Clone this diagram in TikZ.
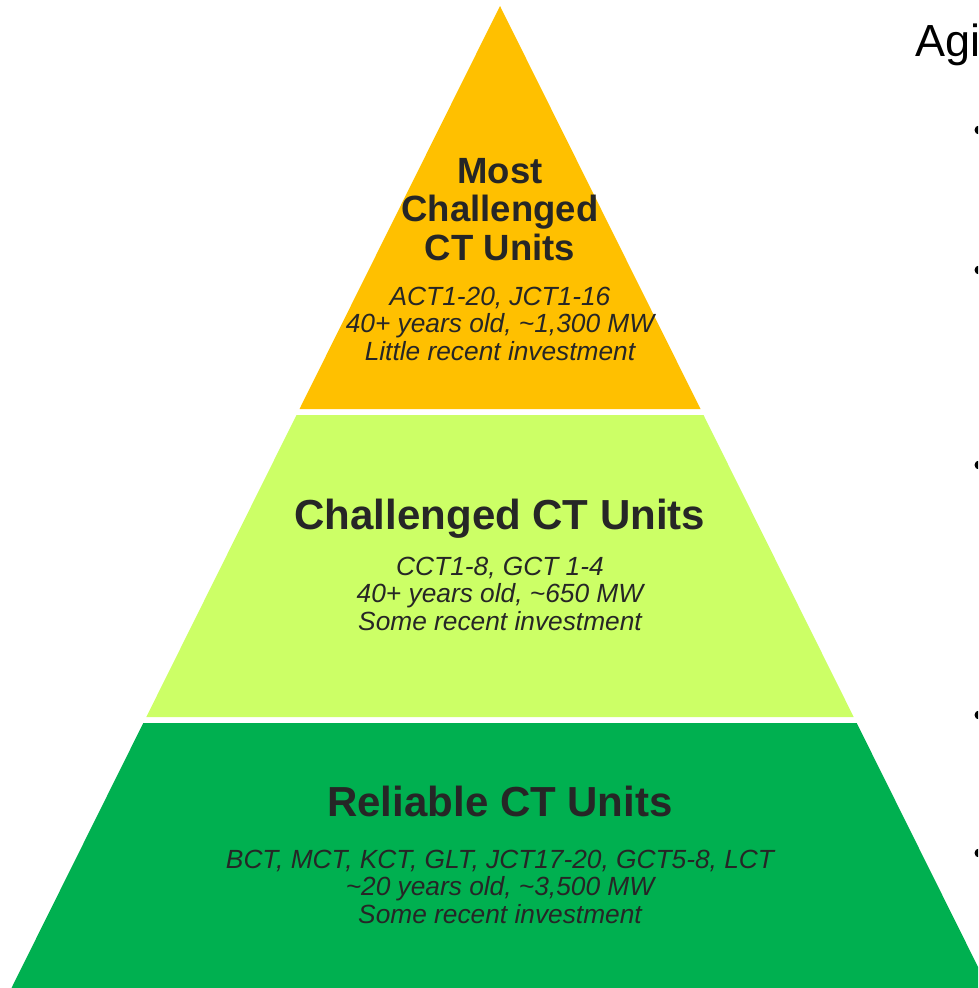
\documentclass[tikz,border=0pt]{standalone}
\usepackage{fontspec}
\setmainfont{Liberation Sans}
\definecolor{topgold}{HTML}{FFC000}
\definecolor{midlime}{HTML}{CCFF66}
\definecolor{lowgreen}{HTML}{00B050}
\definecolor{inktext}{HTML}{262626}
\begin{document}
\begin{tikzpicture}[x=1pt, y=-1pt,
        tiername/.style={text=inktext, font=\bfseries\fontsize{42}{44}\selectfont, anchor=base, inner sep=0pt},
        tierinfo/.style={text=inktext, font=\itshape\fontsize{26.3}{27.8}\selectfont, anchor=base, align=center, inner sep=0pt}]
        \useasboundingbox (0,0) rectangle (978,988);
        \clip (0,0) rectangle (978,988);
        % Pyramid: one triangle cut by two white gaps into three tiers.
        % (base anchor of a multi-line node sits on its last line)
        \coordinate (apex) at (500,6);
        \coordinate (t1) at (299.5,409);
        \coordinate (t2) at (700.5,409);
        
        \coordinate (m1) at (296.5,415);
        \coordinate (m2) at (703.5,415);
        \coordinate (m3) at (853.7,717);
        \coordinate (m4) at (146.3,717);
        
        \coordinate (b1) at (143.3,723);
        \coordinate (b2) at (856.7,723);
        \coordinate (b3) at (988.5,988);
        \coordinate (b4) at (11.5,988);
        
        % Tiers
        \fill[topgold] (apex)--(t2)--(t1)--cycle;
        \fill[midlime] (m1)--(m2)--(m3)--(m4)--cycle;
        \fill[lowgreen] (b1)--(b2)--(b3)--(b4)--cycle;
        
        % Labels
        \node[tiername, font=\bfseries\fontsize{36.5}{38.5}\selectfont, align=center] (topname) at (500,260) {Most\\Challenged\\CT Units};
        \node[tierinfo] (topinfo) at (500,360.7) {ACT1-20, JCT1-16\\40+ years old, \textasciitilde1,300 MW\\Little recent investment};
        
        \node[tiername] (midname) at (500,529.3) {Challenged CT Units};
        \node[tierinfo] (midinfo) at (500,630.7) {CCT1-8, GCT 1-4\\40+ years old, \textasciitilde650 MW\\Some recent investment};
        
        \node[tiername] (lowname) at (500,816.7) {Reliable CT Units};
        \node[tierinfo] (lowinfo) at (500,923.7) {BCT, MCT, KCT, GLT, JCT17-20, GCT5-8, LCT\\\textasciitilde20 years old, \textasciitilde3,500 MW\\Some recent investment};
        
        % Side text, cut off at the right edge
        \node[anchor=base west, inner sep=0pt, font=\fontsize{45}{48}\selectfont] (aging) at (915,56.7) {Agi};
        \foreach \y in {130, 270, 465, 715, 853} \fill (979,\y) circle (4.5);
    \end{tikzpicture}
\end{document}
